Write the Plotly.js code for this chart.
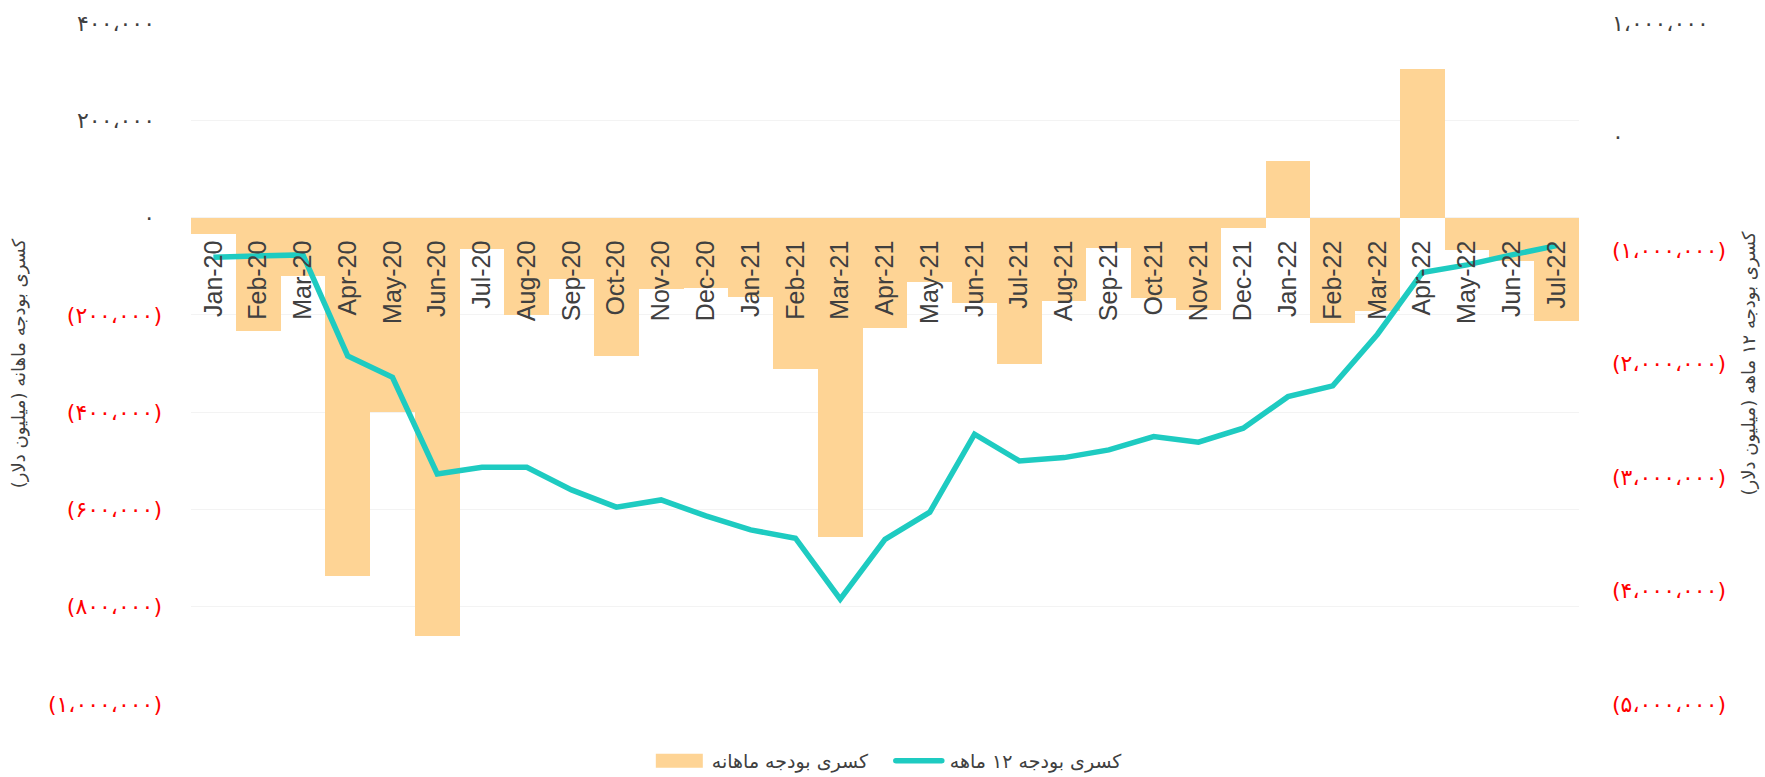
<!DOCTYPE html>
<html>
<head>
<meta charset="utf-8">
<script src="https://cdn.plot.ly/plotly-3.0.1.min.js"></script>
<style>
  html, body { margin: 0; padding: 0; background: #fff; }
  #chart { width: 1765px; height: 777px; }
</style>
</head>
<body>
<div id="chart"></div>
<script>
// Categories
const months = ['Jan-20','Feb-20','Mar-20','Apr-20','May-20','Jun-20','Jul-20','Aug-20','Sep-20','Oct-20','Nov-20','Dec-20',
                'Jan-21','Feb-21','Mar-21','Apr-21','May-21','Jun-21','Jul-21','Aug-21','Sep-21','Oct-21','Nov-21','Dec-21',
                'Jan-22','Feb-22','Mar-22','Apr-22','May-22','Jun-22','Jul-22'];

// Monthly budget deficit (million USD), left axis
const monthlyDeficit = [-33500, -234000, -120000, -736000, -399000, -861000, -64000, -200000, -126000, -284000, -147000, -144000,
                        -163000, -311000, -657000, -226000, -132000, -175000, -301000, -171000, -63000, -166000, -191000, -22000,
                        116500, -216000, -193000, 305000, -66000, -90000, -212000];

// 12-month rolling budget deficit (million USD), right axis
const rolling12Deficit = [-1063000, -1058000, -1043000, -1933000, -2121000, -2973000, -2914000, -2914000, -3114000, -3266000, -3202000, -3343000,
                          -3466000, -3539000, -4077000, -3550000, -3310000, -2623000, -2858000, -2829000, -2761000, -2644000, -2693000, -2570000,
                          -2292000, -2197000, -1742000, -1199000, -1131000, -1043000, -961000];

// Tick values / labels
const leftTickVals = [-1000000, -800000, -600000, -400000, -200000, 0, 200000, 400000];
const leftTickText = ['(۱،۰۰۰،۰۰۰)', '(۸۰۰،۰۰۰)', '(۶۰۰،۰۰۰)', '(۴۰۰،۰۰۰)', '(۲۰۰،۰۰۰)', '۰', '۲۰۰،۰۰۰', '۴۰۰،۰۰۰'];
const rightTickVals = [-5000000, -4000000, -3000000, -2000000, -1000000, 0, 1000000];
const rightTickText = ['(۵،۰۰۰،۰۰۰)', '(۴،۰۰۰،۰۰۰)', '(۳،۰۰۰،۰۰۰)', '(۲،۰۰۰،۰۰۰)', '(۱،۰۰۰،۰۰۰)', '۰', '۱،۰۰۰،۰۰۰'];

const seriesNames = ['کسری بودجه ماهانه', 'کسری بودجه ۱۲ ماهه'];
const leftTitle = 'کسری بودجه ماهانه (میلیون دلار)';
const rightTitle = 'کسری بودجه ۱۲ ماهه (میلیون دلار)';

const FA = 'DejaVu Sans, Noto Sans, sans-serif';
const RED = '#ff0000';
const GREY = '#404040';
const BAR_COLOR = '#fed495';
const LINE_COLOR = '#1ecbc1';

function colorize(vals, texts, padPositive) {
  return texts.map((t, i) => vals[i] < 0
    ? '<span style="color:' + RED + '">' + t + '</span>'
    : '<span style="color:' + GREY + '">' + t + (padPositive ? '\u00A0' : '') + '</span>');
}

const traces = [
  {
    type: 'bar',
    name: seriesNames[0],
    x: months,
    y: monthlyDeficit,
    yaxis: 'y',
    marker: { color: BAR_COLOR, line: { width: 0 } },
    hoverinfo: 'x+y'
  },
  {
    type: 'scatter',
    mode: 'lines',
    name: seriesNames[1],
    x: months,
    y: rolling12Deficit,
    yaxis: 'y2',
    line: { color: LINE_COLOR, width: 5.5 },
    hoverinfo: 'x+y'
  }
];

const layout = {
  width: 1765,
  height: 777,
  paper_bgcolor: '#ffffff',
  plot_bgcolor: '#ffffff',
  margin: { l: 191, r: 186, t: 23, b: 73, pad: 0, autoexpand: false },
  bargap: 0,
  showlegend: true,
  legend: {
    orientation: 'h',
    x: 0.332, xanchor: 'left',
    y: -0.0834, yanchor: 'middle',
    font: { family: FA, size: 19, color: GREY },
    itemwidth: 50,
    entrywidth: 173
  },
  xaxis: {
    type: 'category',
    anchor: 'free',
    position: 5 / 7,
    showgrid: false,
    showline: false,
    zeroline: false,
    ticks: '',
    tickangle: -90,
    ticklabelstandoff: 17,
    tickfont: { family: 'Liberation Sans, Arial, sans-serif', size: 25, color: GREY }
  },
  yaxis: {
    range: [-1000000, 400000],
    tickvals: leftTickVals,
    ticktext: colorize(leftTickVals, leftTickText, true),
    tickfont: { family: FA, size: 22, color: GREY },
    ticks: '',
    ticklabelstandoff: 28,
    showgrid: true,
    gridcolor: '#f3f3f3',
    gridwidth: 1,
    zeroline: false,
    showline: false,
    title: { text: leftTitle, font: { family: FA, size: 18, color: GREY }, standoff: 17 }
  },
  yaxis2: {
    overlaying: 'y',
    side: 'right',
    range: [-5000000, 1000000],
    tickvals: rightTickVals,
    ticktext: colorize(rightTickVals, rightTickText, false),
    tickfont: { family: FA, size: 22, color: GREY },
    ticks: '',
    ticklabelstandoff: 32,
    showgrid: false,
    zeroline: false,
    showline: false,
    title: { text: rightTitle, font: { family: FA, size: 18, color: GREY }, standoff: 17 }
  }
};

Plotly.newPlot('chart', traces, layout, { displayModeBar: false, responsive: false }).then(function (gd) {
  // Widen the legend symbols to resemble the reference's long swatches
  const items = gd.querySelectorAll('.legend .traces');
  if (items[0]) {
    const p = items[0].querySelector('.legendpoints path');
    if (p) { p.setAttribute('transform', ''); p.setAttribute('d', 'M4,7H51V-7H4Z'); }
  }
  if (items[1]) {
    const l = items[1].querySelector('.legendlines path');
    if (l) { l.setAttribute('d', 'M6,0H52'); l.style.strokeLinecap = 'round'; }
  }
});
</script>
</body>
</html>
